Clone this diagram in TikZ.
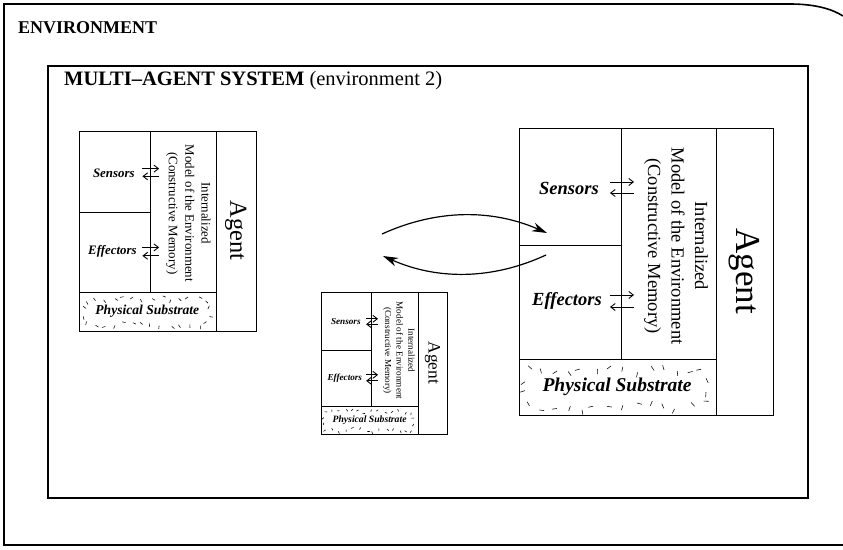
\documentclass[tikz,border=0pt]{standalone}
\usepackage{fontspec}
\setmainfont{Liberation Serif}
\usetikzlibrary{arrows.meta}
\tikzset{
  cell/.style={draw, line width=0.8pt, inner sep=0pt},
  senslbl/.style={inner sep=0pt, font=\fontsize{18.5}{21}\selectfont\bfseries\itshape},
  modellbl/.style={inner sep=0pt, rotate=-90, align=center, font=\fontsize{18.5}{23.5}\selectfont},
  agentlbl/.style={inner sep=0pt, rotate=-90, font=\fontsize{35}{38}\selectfont},
  subslbl/.style={inner sep=0pt, font=\fontsize{19.5}{22}\selectfont\bfseries\itshape},
  smallarrow/.style={line width=0.9pt, -{Straight Barb[length=4.5pt,width=7pt]}},
  speck/.style={line width=0.55pt},
  bigarrow/.style={line width=1.2pt, -{Stealth[length=15pt,width=9pt]}},
  frame/.style={line width=1.6pt},
  titlelbl/.style={inner sep=0pt, anchor=base west, font=\fontsize{18}{20}\selectfont\bfseries},
  mastlbl/.style={inner sep=0pt, anchor=base west, font=\fontsize{20.5}{23}\selectfont\bfseries}
}
\newcommand\agentunit[4]{%
\begin{scope}[shift={(#2,#3)}, scale=#4, transform shape]
  \node[cell, minimum width=254pt, minimum height=287pt] (#1box) at (127,143.5) {};
  \node[cell, minimum width=102pt, minimum height=117pt] (#1sc) at (51,58.5) {};
  \node[cell, minimum width=102pt, minimum height=114pt] (#1ec) at (51,174) {};
  \node[cell, minimum width=95pt, minimum height=231pt] (#1mc) at (149.5,115.5) {};
  \node[cell, minimum width=197pt, minimum height=56pt] (#1pc) at (98.5,259) {};
  \node[senslbl] (#1sl) at (50,60) {Sensors};
  \node[senslbl] (#1el) at (48,173) {Effectors};
  \coordinate (#1sa) at (91,54);  \coordinate (#1sb) at (115,54);
  \coordinate (#1sc2) at (115,65); \coordinate (#1sd) at (91,65);
  \coordinate (#1ea) at (91,167); \coordinate (#1eb) at (115,167);
  \coordinate (#1ec2) at (115,179); \coordinate (#1ed) at (91,179);
  \draw[smallarrow] (#1sa) -- (#1sb);
  \draw[smallarrow] (#1sc2) -- (#1sd);
  \draw[smallarrow] (#1ea) -- (#1eb);
  \draw[smallarrow] (#1ec2) -- (#1ed);
  \node[modellbl] (#1ml) at (157,118) {Internalized\\Model of the Environment\\(Constructive Memory)};
  \node[agentlbl] (#1al) at (225,143) {Agent};
  \node[subslbl] (#1pl) at (98,259) {Physical Substrate};
  \foreach \i in {0,...,13}{%
    \pgfmathsetmacro\xx{6+\i*13.5+rnd*7}%
    \pgfmathsetmacro\yy{236+rnd*9}%
    \pgfmathsetmacro\aa{rnd*180}%
    \draw[speck] (\xx,\yy) -- ++(\aa:5);
    \pgfmathsetmacro\xx{6+\i*13.5+rnd*7}%
    \pgfmathsetmacro\yy{273+rnd*9}%
    \pgfmathsetmacro\aa{rnd*180}%
    \draw[speck] (\xx,\yy) -- ++(\aa:5);
  }
  \foreach \i in {0,1}{%
    \pgfmathsetmacro\yy{250+\i*12+rnd*5}%
    \pgfmathsetmacro\aa{rnd*180}%
    \draw[speck] (6,\yy) -- ++(\aa:5);
    \pgfmathsetmacro\yy{250+\i*12+rnd*5}%
    \pgfmathsetmacro\aa{rnd*180}%
    \draw[speck] (187,\yy) -- ++(\aa:5);
  }
\end{scope}}
\begin{document}
\begin{tikzpicture}[x=1pt, y=-1pt]
  \useasboundingbox (0,0) rectangle (843,549);
  \pgfmathsetseed{11}
  % outer environment frame (page curls away at the top right)
  \draw[frame] (843,545) -- (4,545) -- (4,4) -- (790,4) .. controls (815,4) and (832,9) .. (843,16);
  \node[titlelbl] (envt) at (18,33) {ENVIRONMENT};
  % multi-agent system frame
  \draw[frame, line width=1.3pt] (48,66) rectangle (808,498);
  \node[mastlbl] (mast) at (64,85) {MULTI--AGENT SYSTEM {\mdseries (environment 2)}};
  % agents
  \agentunit{L}{79}{131}{0.697}
  \agentunit{C}{321}{292}{0.496}
  \agentunit{R}{519}{128}{1}
  % interaction arrows
  \coordinate (u1) at (382,234);
  \coordinate (u2) at (547,233);
  \coordinate (l1) at (546,255);
  \coordinate (l2) at (383,256);
  \draw[bigarrow] (u1) .. controls (437,209) and (492,209) .. (u2);
  \draw[bigarrow] (l1) .. controls (492,280) and (437,280) .. (l2);
\end{tikzpicture}
\end{document}
